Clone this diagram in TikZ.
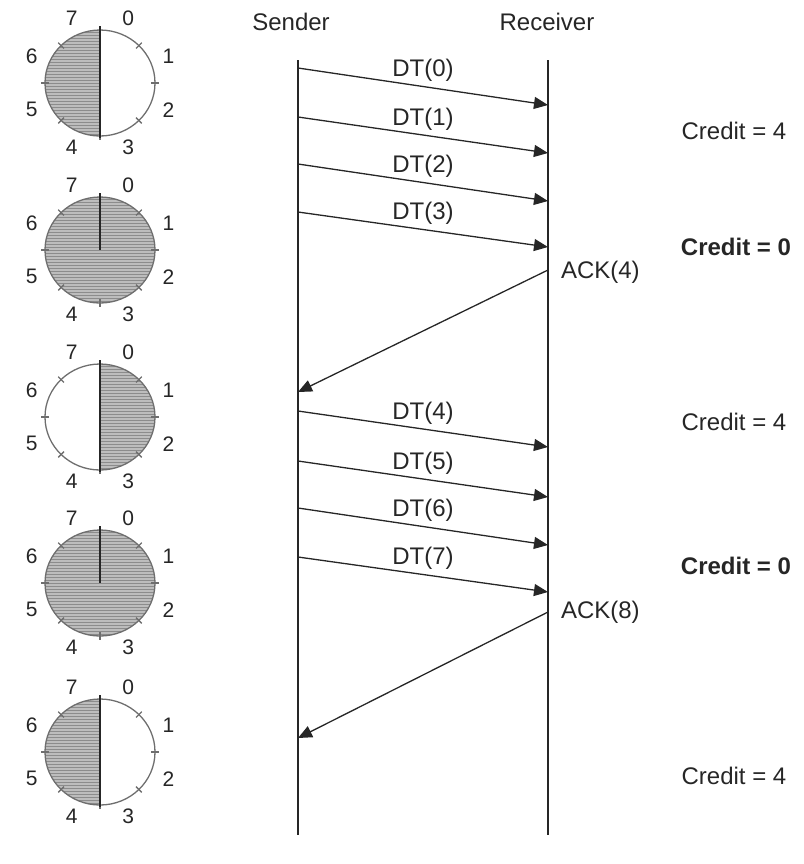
\documentclass[tikz,border=0pt]{standalone}
\usepackage{fontspec}
\setmainfont{Liberation Sans}
\usetikzlibrary{arrows.meta,positioning}
\definecolor{winGray}{HTML}{BDBDBD}
\definecolor{hatchGray}{HTML}{8C8C8C}
\definecolor{rimGray}{HTML}{6E6E6E}

\begin{document}
\begin{tikzpicture}[
  x=0.5pt, y=-0.5pt,
  every node/.style={font=\fontsize{12}{14}\selectfont, text=black!85},
  digit/.style={font=\fontsize{10.5}{12}\selectfont},
  seglabel/.style={inner sep=2pt},
  lifeline/.style={line width=1pt, black!85},
  msg/.style={-{Triangle[length=7pt, width=6pt]}, line width=0.65pt, black!85},
  credit/.style={font=\fontsize{12}{14}\selectfont#1},
  credit/.default={},
  rim/.style={rimGray, line width=0.65pt},
  hand/.style={line width=1.1pt, black!85},
]
\useasboundingbox (0,0) rectangle (804,864);

% === window dials (left) ===
\foreach \cy/\a/\b/\h [count=\i] in {83/90/270/55, 250/90/450/0, 417/-90/90/55, 583/90/450/0, 752/90/270/55} {
  \coordinate (dial\i) at (100,\cy);
  \begin{scope}
    \clip (dial\i) ++(\a:55 and 53) arc[start angle=\a, end angle=\b, x radius=55, y radius=53] -- cycle;
    \fill[winGray] (40,\cy-60) rectangle (160,\cy+60);
    \foreach \dy in {-57,-54,...,57}
      \draw[hatchGray, line width=0.3pt] (40,\cy+\dy) -- (160,\cy+\dy);
  \end{scope}
  \draw[rim] (dial\i) ellipse[x radius=55, y radius=53];
  \foreach \t in {0,45,...,315}
    \draw[rim] (dial\i) ++(\t:51 and 49) -- ++(\t:8);
  \draw[hand] (100,\cy-57) -- (100,\cy+\h);
  \foreach \k in {0,...,7}
    \path (dial\i) ++(45*\k-67.5:74 and 70) node[digit] (num\i-\k) {\k};
}

% === lifelines ===
\node (sender) at (291,22) {Sender};
\node (receiver) at (547,22) {Receiver};
\coordinate (s-top) at (298,60);
\coordinate (s-bot) at (298,835);
\coordinate (r-top) at (548,60);
\coordinate (r-bot) at (548,835);
\draw[lifeline] (s-top) -- (s-bot);
\draw[lifeline] (r-top) -- (r-bot);

% === data segments ===
\foreach \k/\ys/\yr in {0/68/105, 1/117/153, 2/164/201, 3/212/247, 4/411/447, 5/461/497, 6/508/545, 7/557/592} {
  \coordinate (dt\k-s) at (298,\ys);
  \coordinate (dt\k-r) at (548,\yr);
  \draw[msg] (dt\k-s) -- node[seglabel, above=0pt] (dt\k) {DT(\k)} (dt\k-r);
}

% === acknowledgements ===
\coordinate (ack4-r) at (548,270);
\coordinate (ack4-s) at (298,392);
\draw[msg] (ack4-r) -- (ack4-s);
\node[right=3pt of ack4-r, yshift=-1pt] (ack4) {ACK(4)};

\coordinate (ack8-r) at (548,612);
\coordinate (ack8-s) at (298,738);
\draw[msg] (ack8-r) -- (ack8-s);
\node[right=3pt of ack8-r] (ack8) {ACK(8)};

% === credit ===
\node[credit] (credit1) at (734,131) {Credit = 4};
\node[credit=\bfseries] (credit2) at (736,247) {Credit = 0};
\node[credit] (credit3) at (734,422) {Credit = 4};
\node[credit=\bfseries] (credit4) at (736,566) {Credit = 0};
\node[credit] (credit5) at (734,776) {Credit = 4};
\end{tikzpicture}
\end{document}
